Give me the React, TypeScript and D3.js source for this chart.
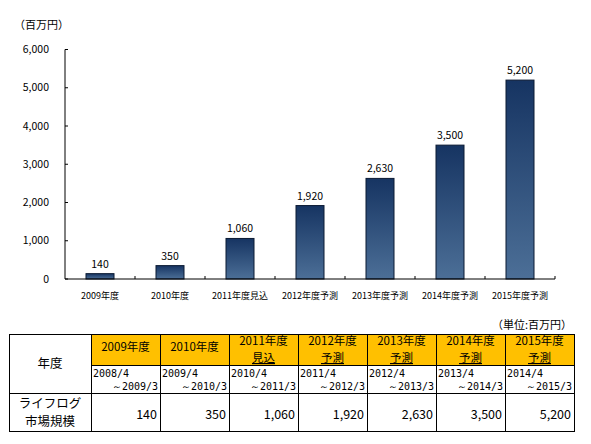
import React from "react";
import * as d3 from "d3";

const categories = ["2009年度", "2010年度", "2011年度見込", "2012年度予測", "2013年度予測", "2014年度予測", "2015年度予測"];
const values = [140, 350, 1060, 1920, 2630, 3500, 5200];
const yTicks = [0, 1000, 2000, 3000, 4000, 5000, 6000];
const headerLine1 = ["2009年度", "2010年度", "2011年度", "2012年度", "2013年度", "2014年度", "2015年度"];
const headerLine2 = ["", "", "見込", "予測", "予測", "予測", "予測"];
const periodStart = ["2008/4", "2009/4", "2010/4", "2011/4", "2012/4", "2013/4", "2014/4"];
const periodEnd = ["～2009/3", "～2010/3", "～2011/3", "～2012/3", "～2013/3", "～2014/3", "～2015/3"];

const W = 591;
const H = 444;
const JP = "'Noto Sans CJK JP', 'Noto Sans', sans-serif";
const MONO = "'DejaVu Sans Mono', 'Liberation Mono', monospace";

export default function App() {
  const x = d3.scaleBand<string>().domain(categories).range([65, 555]).paddingInner(0.6).paddingOuter(0.3);
  const y = d3.scaleLinear().domain([0, 6000]).range([279, 49.5]);
  const fmt = d3.format(",");
  const step = x.step();

  // table geometry
  const tLeft = 9;
  const tFirst = 91;
  const tRight = 574;
  const colW = (tRight - tFirst) / categories.length;
  const rowTop = 334;
  const rowHead = 365;
  const rowDate = 393;
  const rowBottom = 431;

  return (
    <svg width={W} height={H} style={{ position: "absolute", left: 0, top: 0, background: "#fff" }} fontFamily={JP}>
      <defs>
        <linearGradient id="barGrad" x1="0" y1="0" x2="0" y2="1">
          <stop offset="0%" stopColor="#163462" />
          <stop offset="100%" stopColor="#4c6f97" />
        </linearGradient>
      </defs>
      <rect x={0} y={0} width={W} height={H} fill="#fff" />
      {/* unit label */}
      <text x={14} y={29} fontSize={11} fill="#000">（百万円）</text>

      {/* y axis */}
      <line x1={65} x2={65} y1={y(6000)} y2={y(0)} stroke="#000" strokeWidth={1} />
      {yTicks.map((t) => (
        <g key={t}>
          <line x1={65} x2={68} y1={y(t)} y2={y(t)} stroke="#000" />
          <text x={49} y={y(t)} dy="0.35em" textAnchor="end" fontSize={10.5} fill="#000">
            {fmt(t)}
          </text>
        </g>
      ))}

      {/* bars */}
      {categories.map((c, i) => (
        <g key={c}>
          <rect
            x={x(c)!}
            y={y(values[i])}
            width={x.bandwidth()}
            height={y(0) - y(values[i])}
            fill="url(#barGrad)"
            stroke="#0b1a33"
            strokeWidth={1}
          />
          <text x={x(c)! + x.bandwidth() / 2} y={y(values[i]) - 6} textAnchor="middle" fontSize={10.5} fill="#000">
            {fmt(values[i])}
          </text>
          <text x={x(c)! + x.bandwidth() / 2} y={299} textAnchor="middle" fontSize={9} fill="#000">
            {c}
          </text>
        </g>
      ))}

      {/* x axis */}
      <line x1={65} x2={555} y1={y(0)} y2={y(0)} stroke="#000" strokeWidth={1} />
      {categories.map((c, i) => (
        <line key={"xt" + i} x1={65 + step * (i + 1)} x2={65 + step * (i + 1)} y1={y(0)} y2={y(0) - 3} stroke="#000" />
      ))}

      {/* table */}
      <text x={572} y={329} textAnchor="end" fontSize={11} fill="#000">（単位:百万円）</text>
      <rect x={tFirst} y={rowTop} width={tRight - tFirst} height={rowHead - rowTop} fill="#ffc000" />
      {categories.map((c, i) => {
        const cx = tFirst + colW * i;
        return (
          <g key={"tc" + i}>
            <text x={cx + colW / 2} y={headerLine2[i] ? 345 : 351} textAnchor="middle" fontSize={11.5} fill="#000">
              {headerLine1[i]}
            </text>
            {headerLine2[i] && (
              <text x={cx + colW / 2} y={362} textAnchor="middle" fontSize={11.5} fill="#000" textDecoration="underline">
                {headerLine2[i]}
              </text>
            )}
            <text x={cx + 2} y={377} fontSize={10} fontFamily={MONO} fill="#000">
              {periodStart[i]}
            </text>
            <text x={cx + colW - 2} y={390} textAnchor="end" fontSize={10} fontFamily={MONO} fill="#000">
              {periodEnd[i]}
            </text>
            <text x={cx + colW - 3} y={419} textAnchor="end" fontSize={12.5} fill="#000">
              {fmt(values[i])}
            </text>
          </g>
        );
      })}
      <text x={(tLeft + tFirst) / 2} y={368} textAnchor="middle" fontSize={12.5} fill="#000">年度</text>
      <text x={(tLeft + tFirst) / 2} y={408} textAnchor="middle" fontSize={12.5} fill="#000">ライフログ</text>
      <text x={(tLeft + tFirst) / 2} y={426} textAnchor="middle" fontSize={12.5} fill="#000">市場規模</text>

      {/* grid lines */}
      <g stroke="#000" strokeWidth={1} fill="none" shapeRendering="crispEdges">
        <rect x={tLeft} y={rowTop} width={tRight - tLeft} height={rowBottom - rowTop} />
        <line x1={tFirst} x2={tRight} y1={rowHead} y2={rowHead} />
        <line x1={tLeft} x2={tRight} y1={rowDate} y2={rowDate} />
        {d3.range(categories.length).map((i) => (
          <line key={"v" + i} x1={tFirst + colW * i} x2={tFirst + colW * i} y1={rowTop} y2={rowBottom} />
        ))}
      </g>
    </svg>
  );
}
